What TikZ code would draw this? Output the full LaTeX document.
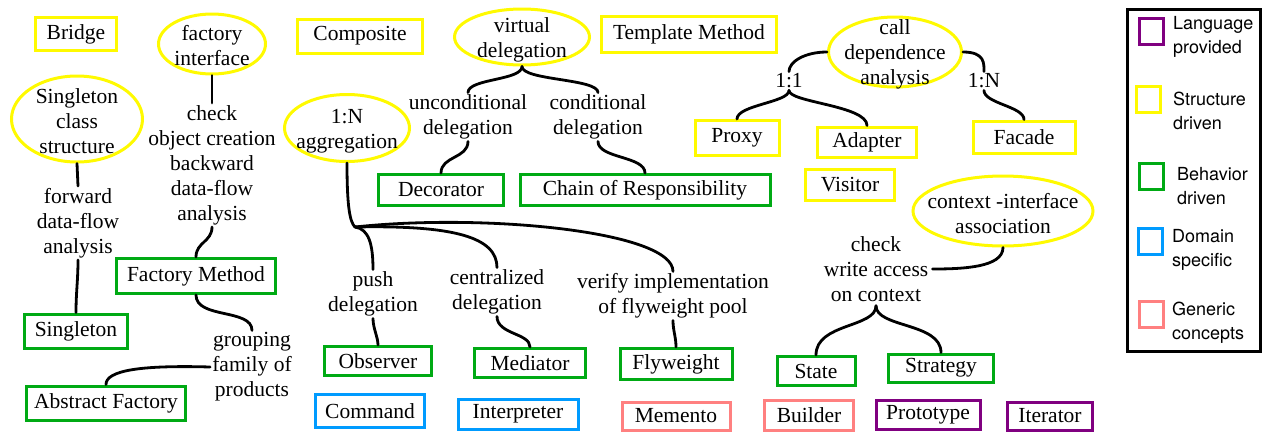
\documentclass[tikz,border=0pt]{standalone}
\usepackage{fontspec}
\setmainfont{Liberation Serif}
\newfontfamily\legfont{TeX Gyre Heros}
\usetikzlibrary{shapes.geometric}
\definecolor{cyel}{RGB}{255,250,0}
\definecolor{cgrn}{RGB}{0,170,20}
\definecolor{cblu}{RGB}{0,155,255}
\definecolor{cpnk}{RGB}{255,128,128}
\definecolor{cpur}{RGB}{128,0,128}
\tikzset{
  base/.style={font=\fontsize{21.5}{25}\selectfont},
  pbox/.style={draw, line width=3pt, rectangle, inner sep=0pt, base},
  ybox/.style={pbox, draw=cyel},
  gbox/.style={pbox, draw=cgrn},
  bbox/.style={pbox, draw=cblu},
  rbox/.style={pbox, draw=cpnk},
  vbox/.style={pbox, draw=cpur},
  ell/.style={draw=cyel, line width=3pt, ellipse, inner sep=0pt},
  lbl/.style={base, align=center, inner sep=2pt},
  conn/.style={line width=2.8pt, line cap=round},
  legsq/.style={draw, line width=3pt, minimum width=24pt, minimum height=26pt, inner sep=0pt},
  legtxt/.style={font=\legfont\fontsize{18}{24}\selectfont, align=left, anchor=west, inner sep=0pt},
}
\begin{document}
\begin{tikzpicture}[x=1pt,y=-1pt]
\useasboundingbox (0,0) rectangle (1264,432);
% yellow boxes
\node[ybox, minimum width=81pt, minimum height=33pt] (bridge) at (76,34) {Bridge};
\node[ybox, minimum width=125pt, minimum height=34pt] (composite) at (360,36) {Composite};
\node[ybox, minimum width=175pt, minimum height=36pt] (template) at (689,34) {Template Method};
\node[ybox, minimum width=84pt, minimum height=35pt] (proxy) at (737,138) {Proxy};
\node[ybox, minimum width=99pt, minimum height=30pt] (adapter) at (867,142) {Adapter};
\node[ybox, minimum width=89pt, minimum height=31pt] (visitor) at (850,185) {Visitor};
\node[ybox, minimum width=102pt, minimum height=32pt] (facade) at (1024,137) {Facade};
% green boxes
\node[gbox, minimum width=103pt, minimum height=34pt] (singleton) at (76,331) {Singleton};
\node[gbox, minimum width=159pt, minimum height=35pt] (factorym) at (196,276) {Factory Method};
\node[gbox, minimum width=159pt, minimum height=34pt] (absfac) at (106,403) {Abstract Factory};
\node[gbox, minimum width=125pt, minimum height=31pt] (decorator) at (441,190) {Decorator};
\node[gbox, minimum width=250pt, minimum height=31pt] (chain) at (645,190) {Chain of Responsibility};
\node[gbox, minimum width=107pt, minimum height=29pt] (observer) at (378,361) {Observer};
\node[gbox, minimum width=111pt, minimum height=29pt] (mediator) at (530,363) {Mediator};
\node[gbox, minimum width=112pt, minimum height=31pt] (flyweight) at (676,364) {Flyweight};
\node[gbox, minimum width=78pt, minimum height=29pt] (state) at (816,371) {State};
\node[gbox, minimum width=105pt, minimum height=28pt] (strategy) at (941,368) {Strategy};
% blue
\node[bbox, minimum width=109pt, minimum height=33pt] (command) at (370,411) {Command};
\node[bbox, minimum width=120pt, minimum height=30pt] (interp) at (518,414) {Interpreter};
% pink
\node[rbox, minimum width=108pt, minimum height=28pt] (memento) at (676,416) {Memento};
\node[rbox, minimum width=89pt, minimum height=30pt] (builder) at (809,415) {Builder};
% purple
\node[vbox, minimum width=104pt, minimum height=29pt] (prototype) at (928,415) {Prototype};
\node[vbox, minimum width=85pt, minimum height=28pt] (iterator) at (1050,416) {Iterator};
% ellipses
\node[ell, minimum width=107pt, minimum height=60pt] (efi) at (212,44) {};
\node[lbl] (efit) at (212,46) {factory\\interface};
\node[ell, minimum width=131pt, minimum height=86pt] (esc) at (77,119) {};
\node[lbl] (esct) at (77,121) {Singleton\\class\\structure};
\node[ell, minimum width=125pt, minimum height=67pt] (eagg) at (347,128) {};
\node[lbl] (eaggt) at (347,131) {1:N\\aggregation};
\node[ell, minimum width=135pt, minimum height=56pt] (evd) at (522,37) {};
\node[lbl] (evdt) at (522,40) {virtual\\delegation};
\node[ell, minimum width=133pt, minimum height=70pt] (ecd) at (895,52) {};
\node[lbl] (ecdt) at (895,54) {call\\dependence\\analysis};
\node[ell, minimum width=180pt, minimum height=70pt] (eci) at (1003,211) {};
\node[lbl] (ecit) at (1003,214) {context -interface\\association};
% labels
\node[lbl] (tcheck) at (212,165) {check\\object creation\\backward\\data-flow\\analysis};
\node[lbl] (tfwd) at (78,223) {forward\\data-flow\\analysis};
\node[lbl] (tgroup) at (252,367) {grouping\\family of\\products};
\node[lbl] (tuncond) at (468,117) {unconditional\\delegation};
\node[lbl] (tcond) at (598,117) {conditional\\delegation};
\node[lbl] (t11) at (789,81) {1:1};
\node[lbl] (t1N) at (984,81) {1:N};
\node[lbl] (tpush) at (373,294) {push\\delegation};
\node[lbl] (tcent) at (497,292) {centralized\\delegation};
\node[lbl] (tverify) at (673,296) {verify implementation\\of flyweight pool};
\node[lbl, inner sep=4pt] (tcwa) at (876,269) {check\\write access\\on context};
\coordinate (hub) at (355,227);
% connectors
\draw[conn] (efi.south) -- (tcheck.north);
\draw[conn] (esc.south) -- (tfwd.north);
\draw[conn] (tfwd.south) .. controls +(0,20) and +(0,-20) .. (singleton.north);
\draw[conn] (tcheck.south) .. controls +(0,15) and +(0,-15) .. (factorym.north);
\draw[conn] (factorym.south) .. controls +(0,24) and +(0,-22) .. (tgroup.north);
\draw[conn] (tgroup.west) .. controls +(-70,-2) and +(0,-14) .. (absfac.north);
\draw[conn] (evd.south) .. controls +(0,14) and +(0,-14) .. (tuncond.north);
\draw[conn] (evd.south) .. controls +(0,14) and +(0,-14) .. (tcond.north);
\draw[conn] (tuncond.south) .. controls +(0,17) and +(0,-17) .. (decorator.north);
\draw[conn] (tcond.south) .. controls +(0,17) and +(0,-17) .. (chain.north);
\draw[conn] (ecd.west) .. controls +(-22,0) and +(0,-10) .. (t11.north);
\draw[conn] (t11.south) .. controls +(0,12) and +(0,-14) .. (proxy.north);
\draw[conn] (t11.south) .. controls +(0,12) and +(0,-20) .. (adapter.north);
\draw[conn] (ecd.east) .. controls +(22,0) and +(0,-8) .. (t1N.north);
\draw[conn] (t1N.south) .. controls +(0,13) and +(0,-13) .. (facade.north);
\draw[conn] (eci.south) .. controls +(0,20) and +(30,0) .. (tcwa.east);
\draw[conn] (tcwa.south) .. controls +(0,22) and +(0,-32) .. (state.north);
\draw[conn] (tcwa.south) .. controls +(0,22) and +(0,-30) .. (strategy.north);
\draw[conn] (eagg.south) .. controls +(0,45) and +(-5,-5) .. (hub);
\draw[conn] (hub) .. controls +(14,2) and +(0,-25) .. (tpush.north);
\draw[conn] (hub) .. controls +(100,-2) and +(0,-30) .. (tcent.north);
\draw[conn] (hub) .. controls +(130,-14) and +(0,-40) .. (tverify.north);
\draw[conn] (tpush.south) .. controls +(0,10) and +(0,-8) .. (observer.north);
\draw[conn] (tcent.south) .. controls +(0,18) and +(0,-14) .. (mediator.north);
\draw[conn] (tverify.south) .. controls +(0,10) and +(0,-10) .. (flyweight.north);
% legend
\node[draw, line width=3pt, minimum width=133pt, minimum height=342pt, inner sep=0pt] (legend) at (1194,180.5) {};
\node[legsq, draw=cpur] (lq1) at (1151,31) {};
\node[legsq, draw=cyel] (lq2) at (1148,99) {};
\node[legsq, draw=cgrn] (lq3) at (1151,176) {};
\node[legsq, draw=cblu] (lq4) at (1150,241) {};
\node[legsq, draw=cpnk] (lq5) at (1151,314) {};
\node[legtxt] (lt1) at (1173,37) {Language\\provided};
\node[legtxt] (lt2) at (1173,111) {Structure\\driven};
\node[legtxt] (lt3) at (1177,186) {Behavior\\driven};
\node[legtxt] (lt4) at (1172,250) {Domain\\specific};
\node[legtxt] (lt5) at (1172,323) {Generic\\concepts};
\end{tikzpicture}
\end{document}
